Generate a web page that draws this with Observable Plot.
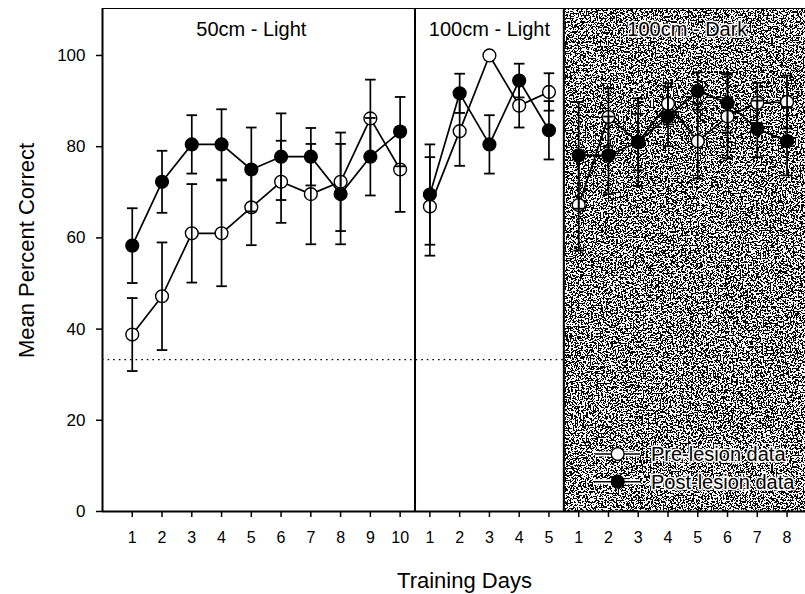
<!DOCTYPE html>
<html><head><meta charset="utf-8">
<script src="https://cdn.jsdelivr.net/npm/d3@7"></script>
<script src="https://cdn.jsdelivr.net/npm/@observablehq/plot@0.6"></script>
<style>body{margin:0;background:#fff;} svg{display:block;}</style>
</head><body><div id="chart"></div>
<script>
// ---- data ----
const panelTitles = ["50cm - Light", "100cm - Light", "100cm - Dark"];
const panelDays = [10, 5, 8];
const dayLabels = [1,2,3,4,5,6,7,8,9,10, 1,2,3,4,5, 1,2,3,4,5,6,7,8];
const preMean = [38.8,47.2,61.0,61.0,66.7,72.3,69.6,72.3,86.2,75.0, 66.9,83.4,100,89.0,92.0, 67.2,86.5,81.0,89.4,81.2,86.6,89.6,89.8];
const preErr  = [8.0,11.8,10.8,11.6,8.3,9.0,11.0,10.8,8.5,9.3, 10.8,7.6,0,4.8,4.1, 10.0,6.3,6.2,4.5,8.2,9.2,4.4,5.8];
const postMean = [58.3,72.3,80.5,80.5,75.0,77.8,77.8,69.6,77.8,83.3, 69.5,91.7,80.5,94.5,83.6, 78.1,78.1,81.0,86.6,92.2,89.6,83.9,81.2];
const postErr  = [8.2,6.8,6.4,7.7,9.2,9.5,6.3,11.0,8.5,7.6, 11.0,4.3,6.4,3.7,6.4, 11.7,8.5,9.6,6.5,4.1,6.5,6.2,7.5];
const chanceLevel = 33.3;
const yTicks = [0,20,40,60,80,100];
const legendLabels = ["Pre-lesion data", "Post-lesion data"];

// ---- build table ----
const rows = [];
let idx = 0;
const bounds = [];
panelDays.forEach((n, p) => {
  for (let k = 0; k < n; k++) {
    idx++;
    rows.push({i: idx, panel: p, day: dayLabels[idx-1],
      pre: preMean[idx-1], preErr: preErr[idx-1],
      post: postMean[idx-1], postErr: postErr[idx-1]});
  }
  bounds.push(idx + 0.5);
});
const titleX = [5, 13, 19.65];
const titles = panelTitles.map((t, k) => ({t, x: titleX[k]}));
const xMax = 23.62, yMax = 110.3;
const errs = [];
rows.forEach(r => {
  if (r.preErr > 0) errs.push({i: r.i, lo: r.pre - r.preErr, hi: r.pre + r.preErr});
  errs.push({i: r.i, lo: r.post - r.postErr, hi: r.post + r.postErr});
});
const caps = errs.flatMap(e => [{i: e.i, y: e.lo}, {i: e.i, y: e.hi}]);
const capSymbol = {draw(ctx, size) { const w = Math.sqrt(size / Math.PI); ctx.moveTo(-w, 0); ctx.lineTo(w, 0); }};

const chart = Plot.plot({
  width: 805, height: 594,
  marginLeft: 102, marginRight: 0, marginTop: 8, marginBottom: 83,
  style: {fontFamily: "'Liberation Sans', Arial, sans-serif", color: "black", background: "white"},
  x: {domain: [0, xMax], axis: null},
  y: {domain: [0, yMax], axis: null},
  marks: [
    Plot.rect([{x1: bounds[1], x2: xMax, y1: 0, y2: yMax}], {x1: "x1", x2: "x2", y1: "y1", y2: "y2", fill: "#777"}),
    Plot.ruleY([chanceLevel], {x1: 0, x2: bounds[1], stroke: "black", strokeWidth: 1.4, strokeDasharray: "1.6,4"}),
    Plot.ruleX(bounds.slice(0, 2), {y1: 0, y2: yMax, stroke: "black", strokeWidth: 2}),
    Plot.ruleX([0], {y1: 0, y2: yMax, stroke: "black", strokeWidth: 2}),
    Plot.ruleY([0], {stroke: "black", strokeWidth: 2}),
    Plot.ruleY([yMax], {stroke: "black", strokeWidth: 1.2}),
    Plot.axisY({ticks: yTicks, tickSize: 6, tickPadding: 11, fontSize: 17, label: null, strokeWidth: 1.5}),
    Plot.axisX({ticks: rows.map(r => r.i), tickFormat: i => dayLabels[i-1], tickSize: 6, tickPadding: 14, fontSize: 16, label: null, strokeWidth: 1.5}),
    Plot.text(["Mean Percent Correct"], {frameAnchor: "left", dx: -69, dy: -9.5, rotate: -90, textAnchor: "middle", lineAnchor: "bottom", fontSize: 22}),
    Plot.text(["Training Days"], {frameAnchor: "bottom", dx: 10.5, dy: 76, lineAnchor: "bottom", fontSize: 22}),
    Plot.text(titles, {x: "x", y: yMax, text: "t", dy: 27, lineAnchor: "bottom", fontSize: 20, stroke: "white", strokeWidth: 3, fill: "black"}),
    Plot.line(rows, {x: "i", y: "pre", z: "panel", stroke: "black", strokeWidth: 1.7}),
    Plot.line(rows, {x: "i", y: "post", z: "panel", stroke: "black", strokeWidth: 1.7}),
    Plot.dot(rows, {x: "i", y: "pre", r: 6.4, fill: "white", stroke: "black", strokeWidth: 1.4}),
    Plot.ruleX(errs, {x: "i", y1: "lo", y2: "hi", stroke: "black", strokeWidth: 1.7}),
    Plot.dot(caps, {x: "i", y: "y", r: 5.3, symbol: capSymbol, stroke: "black", strokeWidth: 1.8}),
    Plot.dot(rows, {x: "i", y: "post", r: 6.4, fill: "black", stroke: "black", strokeWidth: 1.4})
  ]
});
document.getElementById("chart").appendChild(chart);

// noise texture for the dark panel
const svg = d3.select(chart);
const defs = svg.insert("defs", ":first-child");
const f = defs.append("filter").attr("id", "darknoise").attr("x", 0).attr("y", 0).attr("width", 1).attr("height", 1)
  .attr("color-interpolation-filters", "sRGB");
f.append("feTurbulence").attr("type", "fractalNoise").attr("baseFrequency", "0.6 0.6").attr("numOctaves", 2).attr("seed", 11).attr("result", "t");
f.append("feColorMatrix").attr("type", "matrix").attr("values", "1 0 0 0 0  1 0 0 0 0  1 0 0 0 0  0 0 0 0 1").attr("result", "g");
f.append("feComponentTransfer").call(s => {
  ["feFuncR", "feFuncG", "feFuncB"].forEach(n => s.append(n).attr("type", "discrete").attr("tableValues", "0.03 0.03 0.03 0.03 0.03 0.03 0.03 0.03 0.03 0.03 0.97 0.97 0.97 0.97 0.97 0.97 0.97 0.97 0.97 0.97"));
});
svg.select('g[aria-label="rect"] rect').attr("filter", "url(#darknoise)");

// legend (inside dark panel, bottom right)
const lg = svg.append("g").attr("font-family", "'Liberation Sans', Arial, sans-serif").attr("font-size", 20).attr("text-anchor", "start");
legendLabels.forEach((lab, k) => {
  const y = 454 + k * 27.7;
  lg.append("line").attr("x1", 595).attr("x2", 640).attr("y1", y).attr("y2", y).attr("stroke", "white").attr("stroke-width", 5);
  lg.append("line").attr("x1", 595).attr("x2", 640).attr("y1", y).attr("y2", y).attr("stroke", "black").attr("stroke-width", 1.6);
  lg.append("circle").attr("cx", 617.7).attr("cy", y).attr("r", 6.4).attr("fill", k === 0 ? "white" : "black").attr("stroke", "black").attr("stroke-width", 1.4);
  lg.append("text").attr("x", 651).attr("y", y + 7).attr("text-anchor", "start").text(lab).attr("fill", "black")
    .attr("stroke", "white").attr("stroke-width", 3).attr("paint-order", "stroke");
});
</script>
</body></html>
